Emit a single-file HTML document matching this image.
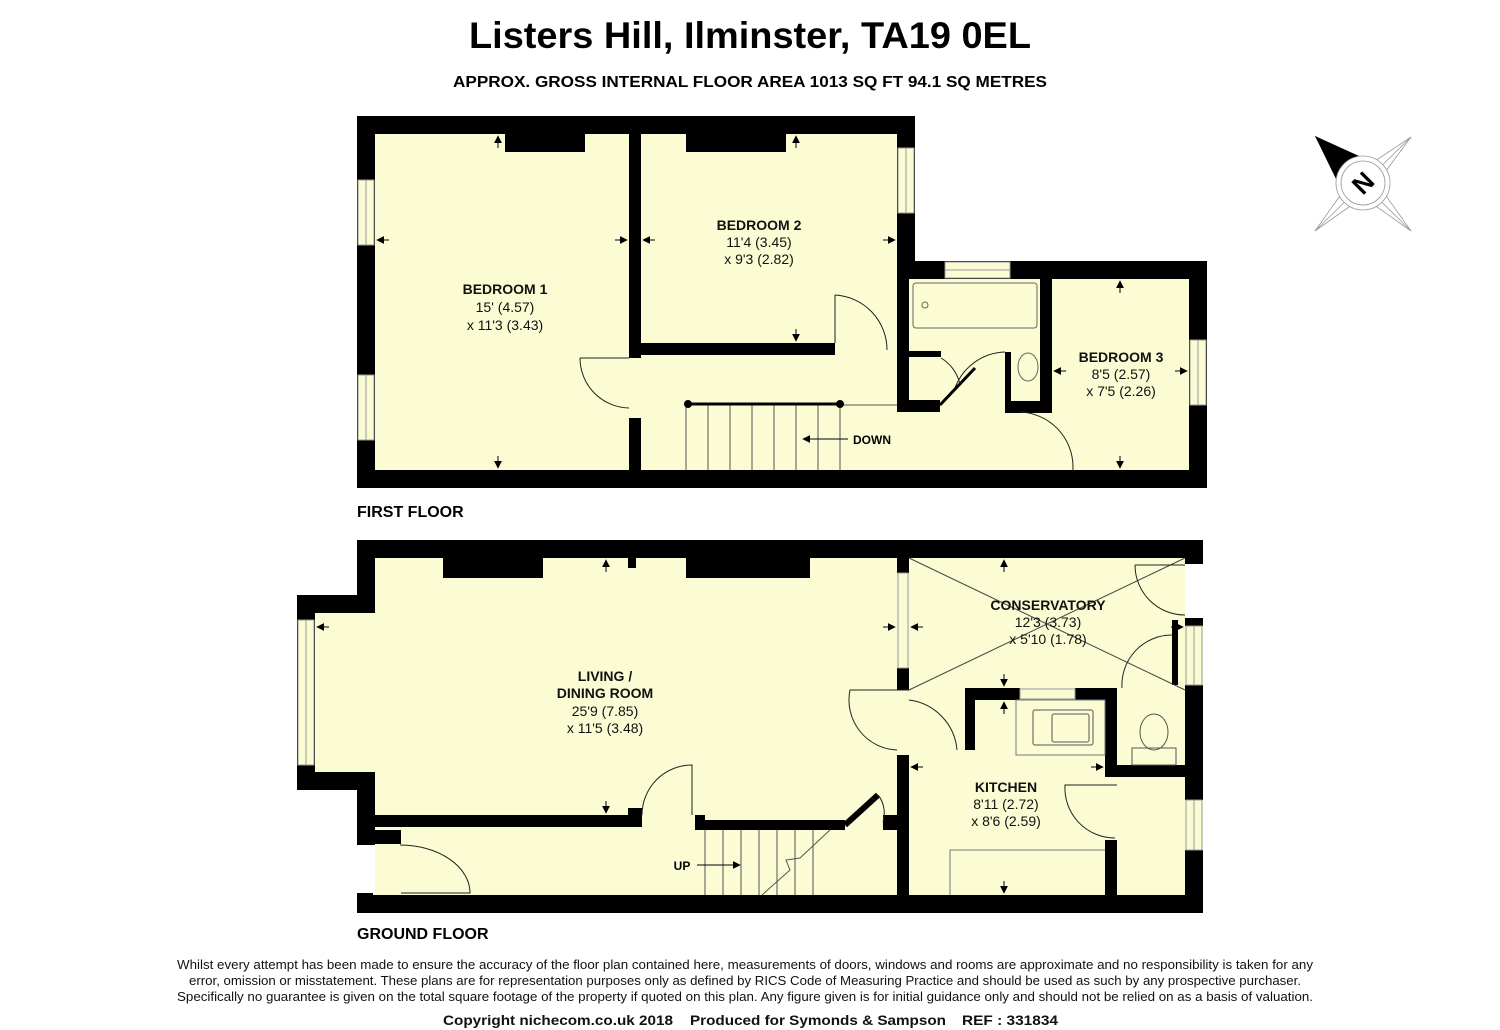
<!DOCTYPE html>
<html><head><meta charset="utf-8"><style>
html,body{margin:0;padding:0;background:#fff;}
svg{display:block;font-family:"Liberation Sans",sans-serif;}
.t{font-weight:bold;font-size:14px;fill:#111;text-anchor:middle}
.d{font-size:14px;fill:#111;text-anchor:middle}
.ln{stroke:#222;stroke-width:1;fill:none}
</style></head><body>
<svg width="1500" height="1030" viewBox="0 0 1500 1030" xmlns="http://www.w3.org/2000/svg">
<defs>
<marker id="ar" viewBox="0 0 10 10" refX="9" refY="5" markerWidth="8" markerHeight="8" orient="auto"><path d="M0,0 L10,5 L0,10z" fill="#000"/></marker>
</defs>
<text x="750" y="48" text-anchor="middle" font-weight="bold" font-size="37" textLength="562" lengthAdjust="spacingAndGlyphs">Listers Hill, Ilminster, TA19 0EL</text>
<text x="750" y="87" text-anchor="middle" font-weight="bold" font-size="16" textLength="594" lengthAdjust="spacingAndGlyphs">APPROX. GROSS INTERNAL FLOOR AREA 1013 SQ FT 94.1 SQ METRES</text>

<!-- FIRST FLOOR -->
<g>
<path d="M357,116 H915 V261 H1207 V488 H357Z" fill="#fbfcd4"/>
<g fill="#000">
<rect x="357" y="116" width="558" height="18"/>
<rect x="357" y="116" width="18" height="372"/>
<rect x="357" y="470" width="850" height="18"/>
<rect x="897" y="116" width="18" height="163"/>
<rect x="897" y="261" width="310" height="18"/>
<rect x="1189" y="261" width="18" height="227"/>
<rect x="629" y="134" width="12" height="224"/>
<rect x="629" y="418" width="12" height="52"/>
<rect x="641" y="343" width="194" height="12"/>
<rect x="897" y="279" width="12" height="72"/>
<rect x="897" y="345" width="12" height="66"/>
<rect x="897" y="400" width="43" height="12"/>
<rect x="909" y="351" width="32" height="6"/>
<rect x="1040" y="279" width="12" height="134"/>
<rect x="1005" y="401" width="47" height="12"/>
<rect x="1005" y="352" width="6" height="52"/>
<rect x="505" y="134" width="80" height="18"/>
<rect x="686" y="134" width="100" height="18"/>
</g>
<g fill="#fbfcd4" stroke="#999" stroke-width="1">
<rect x="358" y="180" width="16" height="65"/>
<rect x="358" y="375" width="16" height="65"/>
<rect x="898" y="148" width="16" height="65"/>
<rect x="945" y="262" width="65" height="16"/>
<rect x="1190" y="340" width="16" height="65"/>
</g>
<g stroke="#999" stroke-width="1"><line x1="366" y1="180" x2="366" y2="245"/><line x1="366" y1="375" x2="366" y2="440"/><line x1="906" y1="148" x2="906" y2="213"/><line x1="945" y1="270" x2="1010" y2="270"/><line x1="1198" y1="340" x2="1198" y2="405"/></g>
<rect x="913" y="283" width="124" height="45" rx="3" fill="none" stroke="#666"/>
<circle cx="925" cy="305" r="3" fill="none" stroke="#666"/>
<ellipse cx="1028" cy="367" rx="10" ry="14" fill="none" stroke="#666"/>
<g class="ln">
<path d="M580,358 H629 M580,358 A50,50 0 0 0 629,408"/>
<path d="M835,295 V343 M835,295 A55,55 0 0 1 887,350"/>
<path d="M941,358 A40,40 0 0 1 960,385 M1005,352 A55,55 0 0 0 955,388"/>
<path d="M1020,412 A55,55 0 0 1 1073,467 V470"/>
</g>
<line x1="940" y1="405" x2="975" y2="368" stroke="#000" stroke-width="3"/>
<g stroke="#555" stroke-width="1">
<line x1="686" y1="404" x2="686" y2="470"/><line x1="708" y1="404" x2="708" y2="470"/><line x1="730" y1="404" x2="730" y2="470"/><line x1="752" y1="404" x2="752" y2="470"/><line x1="774" y1="404" x2="774" y2="470"/><line x1="796" y1="404" x2="796" y2="470"/><line x1="818" y1="404" x2="818" y2="470"/><line x1="840" y1="404" x2="840" y2="470"/>
<line x1="840" y1="405" x2="897" y2="405"/>
</g>
<line x1="688" y1="404" x2="840" y2="404" stroke="#000" stroke-width="3"/>
<circle cx="688" cy="404" r="4"/><circle cx="840" cy="404" r="4"/>
<line x1="848" y1="439" x2="803" y2="439" stroke="#000" marker-end="url(#ar)"/>
<text x="872" y="444" font-size="12" font-weight="bold" text-anchor="middle">DOWN</text>
<g stroke="#000" marker-end="url(#ar)">
<line x1="498" y1="148" x2="498" y2="136"/><line x1="498" y1="456" x2="498" y2="468"/>
<line x1="389" y1="240" x2="377" y2="240"/><line x1="615" y1="240" x2="627" y2="240"/>
<line x1="655" y1="240" x2="643" y2="240"/><line x1="883" y1="240" x2="895" y2="240"/>
<line x1="796" y1="148" x2="796" y2="136"/><line x1="796" y1="329" x2="796" y2="341"/>
<line x1="1120" y1="293" x2="1120" y2="281"/><line x1="1120" y1="456" x2="1120" y2="468"/>
<line x1="1066" y1="371" x2="1054" y2="371"/><line x1="1175" y1="371" x2="1187" y2="371"/>
</g>
<text class="t" x="505" y="294">BEDROOM 1</text><text class="d" x="505" y="312">15' (4.57)</text><text class="d" x="505" y="330">x 11'3 (3.43)</text>
<text class="t" x="759" y="230">BEDROOM 2</text><text class="d" x="759" y="247">11'4 (3.45)</text><text class="d" x="759" y="264">x 9'3 (2.82)</text>
<text class="t" x="1121" y="362">BEDROOM 3</text><text class="d" x="1121" y="379">8'5 (2.57)</text><text class="d" x="1121" y="396">x 7'5 (2.26)</text>
<text x="357" y="517" font-weight="bold" font-size="16">FIRST FLOOR</text>
</g>

<!-- GROUND FLOOR -->
<g>
<path d="M357,540 H1203 V913 H357 V790 H297 V595 H357Z" fill="#fbfcd4"/>
<g fill="#000">
<rect x="357" y="540" width="846" height="18"/>
<rect x="357" y="540" width="18" height="73"/>
<rect x="297" y="595" width="78" height="18"/>
<rect x="297" y="595" width="18" height="195"/>
<rect x="297" y="772" width="78" height="18"/>
<rect x="357" y="772" width="18" height="73"/>
<rect x="357" y="830" width="44" height="14"/>
<rect x="357" y="893" width="16" height="8"/>
<rect x="357" y="895" width="846" height="18"/>
<rect x="1185" y="540" width="18" height="24"/>
<rect x="1185" y="618" width="18" height="8"/>
<rect x="1185" y="685" width="18" height="115"/>
<rect x="1185" y="850" width="18" height="63"/>
<rect x="375" y="815" width="267" height="12"/>
<rect x="628" y="808" width="14" height="10"/>
<rect x="695" y="815" width="10" height="15"/>
<rect x="705" y="820" width="140" height="10"/>
<rect x="897" y="558" width="12" height="15"/>
<rect x="897" y="668" width="12" height="22"/>
<rect x="897" y="755" width="12" height="140"/>
<rect x="883" y="815" width="14" height="15"/>
<rect x="965" y="688" width="55" height="12"/>
<rect x="1075" y="688" width="42" height="12"/>
<rect x="965" y="688" width="10" height="62"/>
<rect x="1105" y="688" width="12" height="82"/>
<rect x="1105" y="765" width="80" height="12"/>
<rect x="1105" y="840" width="12" height="55"/>
<rect x="1172" y="620" width="6" height="65"/>
<rect x="443" y="558" width="100" height="20"/>
<rect x="686" y="558" width="124" height="20"/>
<rect x="628" y="558" width="8" height="10"/>
</g>
<path d="M845,825 L878,795" stroke="#000" stroke-width="6"/>
<rect x="357" y="845" width="18" height="48" fill="#fff"/>
<rect x="1185" y="564" width="18" height="54" fill="#fff"/>
<g fill="#fbfcd4" stroke="#999" stroke-width="1">
<rect x="298" y="620" width="16" height="145"/>
<rect x="898" y="573" width="10" height="95"/>
<rect x="1020" y="689" width="55" height="10"/>
<rect x="1186" y="626" width="16" height="59"/>
<rect x="1186" y="800" width="16" height="50"/>
</g>
<g stroke="#999"><line x1="306" y1="620" x2="306" y2="765"/><line x1="1194" y1="626" x2="1194" y2="685"/><line x1="1194" y1="800" x2="1194" y2="850"/></g>
<g stroke="#444" stroke-width="1"><line x1="909" y1="558" x2="1185" y2="690"/><line x1="909" y1="690" x2="1185" y2="558"/></g>
<g class="ln">
<path d="M400,845 A70,48 0 0 1 470,893 H401"/>
<path d="M642,815 A50,50 0 0 1 692,765 V815"/>
<path d="M878,795 A20,25 0 0 1 883,822"/>
<path d="M909,700 A55,55 0 0 1 957,750 M909,690 H850 A50,50 0 0 0 897,750"/>
<path d="M1135,565 H1185 M1135,565 A50,50 0 0 0 1185,615"/>
<path d="M1172,635 A50,50 0 0 0 1122,688"/>
<path d="M1117,785 H1065 A50,50 0 0 0 1115,838"/>
</g>
<rect x="1016" y="700" width="89" height="55" fill="none" stroke="#777"/>
<rect x="1033" y="710" width="60" height="35" fill="none" stroke="#555" rx="2"/>
<rect x="1052" y="714" width="37" height="28" fill="none" stroke="#555" rx="2"/>
<ellipse cx="1154" cy="732" rx="14" ry="18" fill="none" stroke="#555"/>
<rect x="1132" y="748" width="44" height="17" fill="none" stroke="#555"/>
<polyline points="950,895 950,850 1105,850" fill="none" stroke="#777"/>
<g stroke="#555" stroke-width="1">
<line x1="705" y1="830" x2="705" y2="895"/><line x1="723" y1="830" x2="723" y2="895"/><line x1="741" y1="830" x2="741" y2="895"/><line x1="759" y1="830" x2="759" y2="895"/><line x1="777" y1="830" x2="777" y2="895"/><line x1="795" y1="830" x2="795" y2="895"/><line x1="813" y1="830" x2="813" y2="895"/>
<polyline points="762,895 790,870 786,860 800,858 830,830" fill="none"/>
</g>
<line x1="697" y1="865" x2="740" y2="865" stroke="#000" marker-end="url(#ar)"/>
<text x="682" y="870" font-size="12" font-weight="bold" text-anchor="middle">UP</text>
<g stroke="#000" marker-end="url(#ar)">
<line x1="606" y1="572" x2="606" y2="560"/><line x1="606" y1="801" x2="606" y2="813"/>
<line x1="329" y1="627" x2="317" y2="627"/><line x1="883" y1="627" x2="895" y2="627"/>
<line x1="923" y1="627" x2="911" y2="627"/><line x1="1171" y1="627" x2="1183" y2="627"/>
<line x1="1004" y1="572" x2="1004" y2="560"/><line x1="1004" y1="674" x2="1004" y2="686"/>
<line x1="1004" y1="714" x2="1004" y2="702"/><line x1="1004" y1="881" x2="1004" y2="893"/>
<line x1="923" y1="767" x2="911" y2="767"/><line x1="1091" y1="767" x2="1103" y2="767"/>
</g>
<text class="t" x="1048" y="610">CONSERVATORY</text><text class="d" x="1048" y="627">12'3 (3.73)</text><text class="d" x="1048" y="644">x 5'10 (1.78)</text>
<text class="t" x="605" y="681">LIVING /</text><text class="t" x="605" y="698">DINING ROOM</text><text class="d" x="605" y="716">25'9 (7.85)</text><text class="d" x="605" y="733">x 11'5 (3.48)</text>
<text class="t" x="1006" y="792">KITCHEN</text><text class="d" x="1006" y="809">8'11 (2.72)</text><text class="d" x="1006" y="826">x 8'6 (2.59)</text>
<text x="357" y="939" font-weight="bold" font-size="16">GROUND FLOOR</text>
</g>

<!-- compass -->
<g transform="translate(1363,183)">
<g fill="none" stroke="#999" stroke-width="0.8">
<polygon points="-48,-47 0,-14 48,-46 14,0 48,48 0,14 -48,48 -14,0"/>
<line x1="-48" y1="-47" x2="48" y2="48"/><line x1="48" y1="-46" x2="-48" y2="48"/>
</g>
<polygon points="-48,-47 -4,-27 -27,-4" fill="#000"/>
<circle r="27" fill="#fff" stroke="#999" stroke-width="0.8"/>
<circle r="22" fill="none" stroke="#999" stroke-width="0.8"/>
<text x="0" y="9" font-weight="bold" font-size="26" text-anchor="middle" transform="rotate(-45)">N</text>
</g>

<g font-size="12.5" text-anchor="middle" fill="#111">
<text x="745" y="969" textLength="1136" lengthAdjust="spacingAndGlyphs">Whilst every attempt has been made to ensure the accuracy of the floor plan contained here, measurements of doors, windows and rooms are approximate and no responsibility is taken for any</text>
<text x="745" y="985" textLength="1112" lengthAdjust="spacingAndGlyphs">error, omission or misstatement. These plans are for representation purposes only as defined by RICS Code of Measuring Practice and should be used as such by any prospective purchaser.</text>
<text x="745" y="1001" textLength="1136" lengthAdjust="spacingAndGlyphs">Specifically no guarantee is given on the total square footage of the property if quoted on this plan. Any figure given is for initial guidance only and should not be relied on as a basis of valuation.</text>
</g>
<g font-weight="bold" font-size="14" fill="#111">
<text x="443" y="1025" textLength="230" lengthAdjust="spacingAndGlyphs">Copyright nichecom.co.uk 2018</text>
<text x="690" y="1025" textLength="256" lengthAdjust="spacingAndGlyphs">Produced for Symonds &amp; Sampson</text>
<text x="962" y="1025" textLength="96" lengthAdjust="spacingAndGlyphs">REF : 331834</text>
</g>
</svg>
</body></html>
